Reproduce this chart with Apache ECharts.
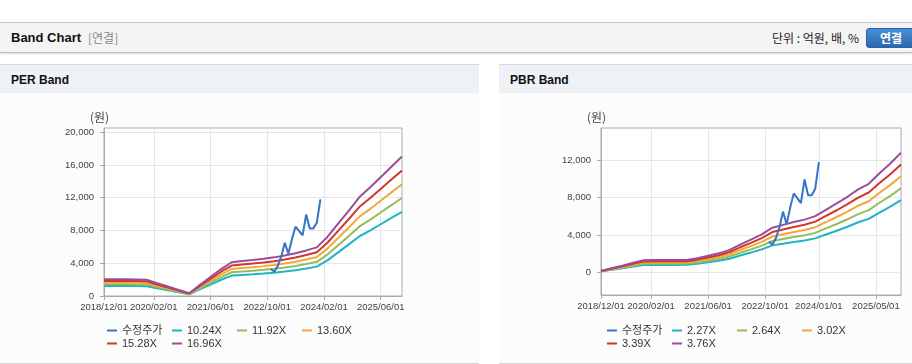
<!DOCTYPE html>
<html><head><meta charset="utf-8">
<script src="https://cdn.jsdelivr.net/npm/echarts@6/dist/echarts.min.js"></script>
<style>
html,body{margin:0;padding:0;width:912px;height:364px;overflow:hidden;background:#fff;font-family:'Liberation Sans','Noto Sans CJK KR',sans-serif;}
#hdr{position:absolute;left:0;top:22px;width:912px;height:29px;background:#f4f4f4;border-top:1px solid #c4c4c4;border-bottom:1px solid #bdbdbd;box-shadow:0 1px 2px rgba(0,0,0,0.15);}
#hdr .t{position:absolute;left:11px;top:7px;font-weight:bold;font-size:13px;color:#111;}
#hdr .s{position:absolute;left:88px;top:7px;font-size:12px;color:#888;font-family:'Noto Sans CJK KR',sans-serif;line-height:16px;}
#hdr .u{position:absolute;right:53px;top:7px;font-size:12px;color:#222;font-family:'Noto Sans CJK KR',sans-serif;line-height:16px;}
#hdr .b{position:absolute;left:866px;top:5px;width:50px;height:20px;border-radius:3px;background:linear-gradient(#4a8fd4,#2b69ae);border:1px solid #2a62a3;box-sizing:border-box;color:#fff;font-weight:bold;font-size:12px;text-align:center;line-height:18px;font-family:'Noto Sans CJK KR',sans-serif;}
.pan{position:absolute;top:64px;height:298px;border-top:1px solid #d8d8d8;border-bottom:1px solid #d4d4d4;background:#fcfcfc;}
.pan .h{position:absolute;left:0;top:0;right:0;height:28px;background:#eef2f7;}
.pan .h span{position:absolute;left:11px;top:8px;font-weight:bold;font-size:12px;color:#111;}
#chart{position:absolute;left:0;top:0;width:912px;height:364px;z-index:2;}
</style></head>
<body>
<div id="hdr"><span class="t">Band Chart</span><span class="s">[연결]</span><span class="u">단위 : 억원, 배, %</span><div class="b">연결</div></div>
<div class="pan" style="left:0;width:479px;"><div class="h"><span>PER Band</span></div></div>
<div class="pan" style="left:499px;width:480px;"><div class="h"><span>PBR Band</span></div></div>
<div id="chart"></div>
<script>
// ---- data ----
const bandDates = ['2018-12-01','2019-03-01','2019-06-01','2019-09-01','2019-12-01','2020-03-01','2020-06-01','2020-09-01','2020-12-01','2021-03-01','2021-06-01','2021-09-01','2021-12-01','2022-03-01','2022-06-01','2022-09-01','2022-12-01','2023-03-01','2023-06-01','2023-09-01','2023-12-01','2024-03-01','2024-06-01','2024-09-01','2024-12-01','2025-03-01','2025-06-01','2025-09-01','2025-12-01'];
const per1024 = [1229,1229,1229,1219,1198,942,696,451,205,799,1393,1987,2488,2570,2652,2744,2847,2990,3154,3359,3584,4352,5325,6298,7291,7987,8755,9523,10271];
const per1192 = [1430,1430,1430,1418,1395,1097,811,524,238,930,1621,2312,2897,2992,3087,3195,3314,3481,3671,3910,4172,5066,6198,7331,8487,9298,10192,11086,11956];
const per1360 = [1632,1632,1632,1618,1591,1251,925,598,272,1061,1850,2638,3305,3414,3522,3645,3781,3971,4189,4461,4760,5780,7072,8364,9683,10608,11628,12648,13641];
const per1528 = [1834,1834,1834,1818,1788,1406,1039,672,306,1192,2078,2964,3713,3835,3958,4095,4248,4462,4706,5012,5348,6494,7946,9397,10879,11918,13064,14210,15326];
const per1696 = [2035,2035,2035,2018,1984,1560,1153,746,339,1323,2307,3290,4121,4257,4393,4545,4715,4952,5224,5563,5936,7208,8819,10430,12075,13229,14501,15773,17011];
const pbr227 = [91,261,431,613,783,795,795,795,799,908,1067,1226,1453,1793,2111,2452,2883,3065,3246,3405,3632,4041,4449,4881,5357,5720,6401,7037,7736];
const pbr264 = [106,304,502,713,911,924,924,924,929,1056,1241,1426,1690,2086,2455,2851,3353,3564,3775,3960,4224,4699,5174,5676,6230,6653,7445,8184,8997];
const pbr302 = [121,347,574,815,1042,1057,1057,1057,1063,1208,1419,1631,1933,2386,2809,3262,3835,4077,4319,4530,4832,5376,5919,6493,7127,7610,8516,9362,10292];
const pbr339 = [136,390,644,915,1170,1187,1187,1187,1193,1356,1593,1831,2170,2678,3153,3661,4305,4577,4848,5085,5424,6034,6644,7289,8000,8543,9560,10509,11553];
const pbr376 = [150,432,714,1015,1297,1316,1316,1316,1324,1504,1767,2030,2406,2970,3497,4061,4775,5076,5377,5640,6016,6693,7370,8084,8874,9475,10603,11656,12814];
const priceDates = ['2022-11-01','2022-12-01','2023-01-01','2023-02-01','2023-03-01','2023-04-01','2023-05-01','2023-06-01','2023-07-01','2023-08-01','2023-09-01','2023-10-01','2023-11-01','2023-12-01','2024-01-01'];
const priceVals = [3300,2950,3700,4900,6500,5150,6900,8450,7950,7400,9950,8250,8250,8950,11800];
const perNames = ['수정주가','10.24X','11.92X','13.60X','15.28X','16.96X'];
const pbrNames = ['수정주가','2.27X','2.64X','3.02X','3.39X','3.76X'];
const perXTicks = ['2018-12-01','2020-02-01','2021-06-01','2022-10-01','2024-02-01','2025-06-01'];
const pbrXTicks = ['2018-12-01','2020-02-01','2021-06-01','2022-10-01','2024-01-01','2025-05-01'];
const perYTicks = [0,4000,8000,12000,16000,20000];
const pbrYTicks = [0,4000,8000,12000];
const xMin = '2018-12-01', xMax = '2025-12-01';

// ---- chart ----
const colors = ['#3574c6','#1fb3c6','#93bd5b','#f3a83b','#d4352b','#9b4c9c'];
const numFont = "'Liberation Sans',sans-serif";
const T = s => Date.UTC(+s.slice(0,4), +s.slice(5,7)-1, +s.slice(8,10));
const pad = n => String(n).padStart(2,'0');
const fmtDate = v => { const d = new Date(v); return d.getUTCFullYear()+'/'+pad(d.getUTCMonth()+1)+'/'+pad(d.getUTCDate()); };
const fmtNum = v => Math.round(v).toLocaleString('en-US');

function mkX(gi, ticks){
  const cv = ticks.map(T);
  return {type:'value', gridIndex:gi, min:T(xMin), max:T(xMax),
    axisLine:{show:true, onZero:false, lineStyle:{color:'#aaa', width:1}},
    axisTick:{show:true, length:4, lineStyle:{color:'#aaa'}, customValues:cv},
    axisLabel:{customValues:cv, formatter:fmtDate, color:'#444', fontSize:9.5, fontFamily:numFont, margin:6, hideOverlap:false, showMinLabel:true, showMaxLabel:true},
    splitLine:{show:true, lineStyle:{color:'#e6e6e6', width:1}},
    axisPointer:{show:false}};
}
function mkY(gi, min, max, ticks){
  return {type:'value', gridIndex:gi, min:min, max:max,
    name:'(원)', nameLocation:'end', nameGap:11,
    nameTextStyle:{color:'#444', fontSize:12, fontFamily:"'Noto Sans CJK KR',sans-serif", align:'center', verticalAlign:'middle', padding:[0,9,0,0]},
    axisLine:{show:true, onZero:false, lineStyle:{color:'#aaa', width:1}},
    axisTick:{show:true, length:4, lineStyle:{color:'#aaa'}, customValues:ticks},
    axisLabel:{customValues:ticks, formatter:fmtNum, color:'#444', fontSize:9.5, fontFamily:numFont, margin:10, showMinLabel:true},
    splitLine:{show:true, lineStyle:{color:'#e6e6e6', width:1}}};
}
function line(name, gi, dates, vals, color){
  return {type:'line', name:name, xAxisIndex:gi, yAxisIndex:gi, showSymbol:false, symbol:'none',
    data:dates.map((d,i)=>[T(d), vals[i]]), lineStyle:{width:2, color:color}, itemStyle:{color:color},
    emphasis:{disabled:true}, silent:true};
}
function legend(left, names){
  return {data:names, left:left, top:324, width:262, orient:'horizontal', padding:0, itemGap:0,
    itemWidth:10, itemHeight:2, icon:'rect', selectedMode:false,
    textStyle:{width:50, fontSize:11, lineHeight:13, color:'#333', fontFamily:"'Liberation Sans','Noto Sans CJK KR',sans-serif"}};
}
const perBands = [per1024, per1192, per1360, per1528, per1696];
const pbrBands = [pbr227, pbr264, pbr302, pbr339, pbr376];
const series = [];
perBands.forEach((b,i)=>series.push(line(perNames[i+1], 0, bandDates, b, colors[i+1])));
series.push(line(perNames[0], 0, priceDates, priceVals, colors[0]));
pbrBands.forEach((b,i)=>series.push(line(pbrNames[i+1], 1, bandDates, b, colors[i+1])));
series.push(line(pbrNames[0], 1, priceDates, priceVals, colors[0]));

const chart = echarts.init(document.getElementById('chart'), null, {renderer:'canvas'});
chart.setOption({
  animation:false,
  backgroundColor:'transparent',
  grid:[
    {left:104, top:128, width:298, height:168, show:true, backgroundColor:'#fff', borderColor:'#aaa', borderWidth:1, containLabel:false, outerBoundsMode:'none'},
    {left:601, top:128, width:300, height:167, show:true, backgroundColor:'#fff', borderColor:'#aaa', borderWidth:1, containLabel:false, outerBoundsMode:'none'}
  ],
  xAxis:[mkX(0, perXTicks), mkX(1, pbrXTicks)],
  yAxis:[mkY(0, 0, 20500, perYTicks), mkY(1, -2430, 15450, pbrYTicks)],
  legend:[legend(107, perNames), legend(607, pbrNames)],
  series:series
});
</script>
</body></html>
